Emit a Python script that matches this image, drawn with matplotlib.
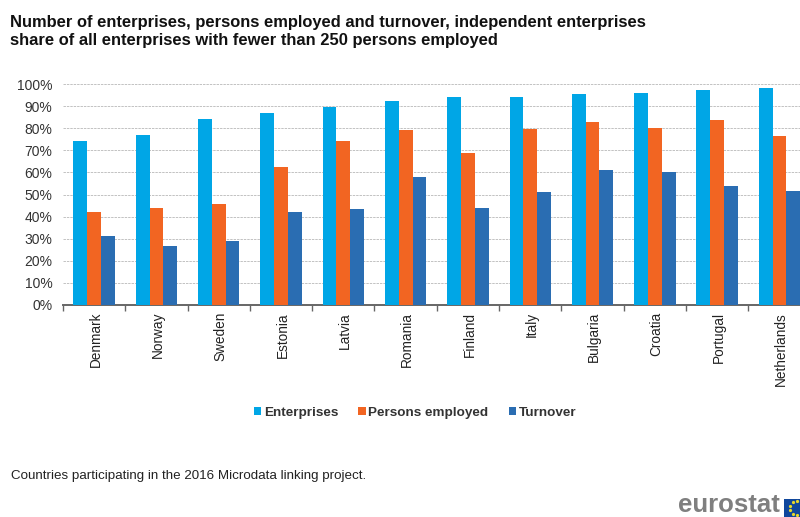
import numpy as np
import matplotlib
matplotlib.use("Agg")
import matplotlib.pyplot as plt
from matplotlib.patches import Rectangle

plt.rcParams['font.family'] = ['Liberation Sans', 'DejaVu Sans']

countries = ["Denmark", "Norway", "Sweden", "Estonia", "Latvia", "Romania",
             "Finland", "Italy", "Bulgaria", "Croatia", "Portugal", "Netherlands"]
enterprises = [74.3, 77.0, 84.0, 87.0, 89.7, 92.5, 94.0, 94.3, 95.7, 96.0, 97.5, 98.0]
persons = [42.3, 44.0, 45.5, 62.5, 74.0, 79.0, 69.0, 79.5, 83.0, 80.3, 83.5, 76.5]
turnover = [31.0, 26.5, 29.0, 42.3, 43.3, 58.0, 44.0, 51.0, 61.3, 60.3, 53.8, 51.5]
y_ticks = [0, 10, 20, 30, 40, 50, 60, 70, 80, 90, 100]

W, H = 800, 517
fig = plt.figure(figsize=(W / 100, H / 100), dpi=100)

# plot area runs off the right edge, last group gets cut there
ax = fig.add_axes([63 / W, 1 - 305 / H, 737 / W, 221 / H])
step = 62.3
bar_w = 13.8 / step
x = np.arange(len(countries))

ax.bar(x - bar_w, enterprises, bar_w, color="#00a6e6", label="Enterprises", zorder=3)
ax.bar(x, persons, bar_w, color="#f26522", label="Persons employed", zorder=3)
ax.bar(x + bar_w, turnover, bar_w, color="#2a6db2", label="Turnover", zorder=3)

ax.set_xlim(-0.5, -0.5 + 737 / step)
ax.set_ylim(0, 100)
ax.set_yticks(y_ticks)
ax.set_yticklabels([f"{v}%" for v in y_ticks], fontsize=10, color="#333333")
ax.yaxis.grid(True, color="#c2c2c2", linestyle=(0, (2.5, 1)), linewidth=0.7, zorder=0)
ax.set_axisbelow(True)

ax.set_xticks(np.arange(len(countries)) - 0.5, minor=False)
ax.set_xticklabels([])
ax.tick_params(axis="x", length=4, width=1, color="#666666", direction="out")
ax.tick_params(axis="y", length=0, pad=7.5)

# country names sit at group centres, ticks between groups
for i, name in enumerate(countries):
    ax.annotate(name, xy=(i, 0), xycoords=("data", "axes fraction"),
                xytext=(1.2, -5), textcoords="offset points",
                rotation=90, ha="center", va="top", fontsize=9.8, color="#222222")

for s in ["top", "right", "left"]:
    ax.spines[s].set_visible(False)
ax.spines["bottom"].set_color("#666666")
ax.spines["bottom"].set_linewidth(1.4)

fig.text(10 / W, 1 - 22 / H, "Number of enterprises, persons employed and turnover, independent enterprises",
         fontsize=11.9, fontweight="bold", color="#111111", va="center")
fig.text(10 / W, 1 - 41 / H, "share of all enterprises with fewer than 250 persons employed",
         fontsize=11.9, fontweight="bold", color="#111111", va="center")

fig.legend(loc="center", bbox_to_anchor=(415 / W, 1 - 413 / H), ncol=3, frameon=False,
           prop={"weight": "bold", "size": 9.7}, handlelength=0.55, handleheight=0.55,
           handletextpad=0.2, columnspacing=1.5, labelcolor="#333333")

fig.text(11 / W, 1 - 476 / H, "Countries participating in the 2016 Microdata linking project.",
         fontsize=9.6, color="#222222", va="center")

# eurostat logo with the flag cut by the edge
fig.text(780 / W, 1 - 511.5 / H, "eurostat", fontsize=18.5, fontweight="bold", color="#7f7f7f",
         ha="right", va="baseline")
flag = Rectangle((784 / W, 0), 16 / W, 18 / H, transform=fig.transFigure, color="#10479c", lw=0)
fig.add_artist(flag)
angles = np.radians(np.arange(90, 271, 36))
star_x = (797 + 7 * np.cos(angles)) / W
star_y = (9 + 7 * np.sin(angles)) / H
fig.add_artist(plt.Line2D(star_x, star_y, transform=fig.transFigure, linestyle="none",
                          marker="o", markersize=1.3, color="#e8d82a"))

fig.savefig("out.png", dpi=100)
